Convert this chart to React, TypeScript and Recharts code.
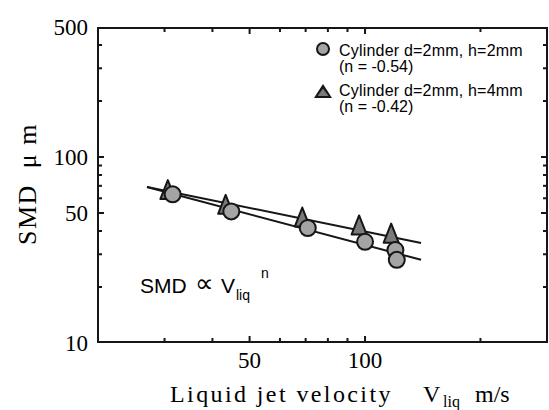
import React from "react";
import { ComposedChart, Scatter, XAxis, YAxis } from "recharts";

// tick values (log axes)
const xTicks = [30, 40, 50, 60, 70, 80, 90, 100, 200];
const xLabelTicks = [50, 100];
const yTicks = [10, 20, 30, 40, 50, 60, 70, 80, 90, 100, 200, 300, 400, 500];
const yLabelTicks = [10, 50, 100, 500];
const xDomain = [20, 300];
const yDomain = [10, 500];

// Cylinder d=2mm, h=2mm
const h2Velocity = [31.5, 44.8, 70.9, 100, 120, 121];
const h2Smd = [63, 51, 41.5, 35, 31.6, 28];

// Cylinder d=2mm, h=4mm
const h4Velocity = [30.6, 43.3, 68.6, 96.5, 117];
const h4Smd = [66, 55, 47, 42.6, 38.5];

// power-law fit end points
const fitVelocity = [27, 140];
const h2FitSmd = [69, 28];
const h4FitSmd = [69, 34.5];

const h2Data = h2Velocity.map((v, i) => ({ v, smd: h2Smd[i] }));
const h4Data = h4Velocity.map((v, i) => ({ v, smd: h4Smd[i] }));
const h2Fit = fitVelocity.map((v, i) => ({ v, smd: h2FitSmd[i] }));
const h4Fit = fitVelocity.map((v, i) => ({ v, smd: h4FitSmd[i] }));

// frame and inward ticks, placed through the chart scales
const frame = [
  { v: xDomain[0], smd: yDomain[0] },
  { v: xDomain[0], smd: yDomain[1] },
  { v: xDomain[1], smd: yDomain[1] },
  { v: xDomain[1], smd: yDomain[0] },
  { v: xDomain[0], smd: yDomain[0] },
];
const bottomMarks = xTicks.map((v) => ({ v, smd: yDomain[0] }));
const topMarks = xTicks.map((v) => ({ v, smd: yDomain[1] }));
const leftMarks = yTicks.map((smd) => ({ v: xDomain[0], smd }));
const rightMarks = yTicks.map((smd) => ({ v: xDomain[1], smd }));

// layout
const W = 549;
const H = 410;
const TOP = 27;
const RIGHT = 1;
const X_AXIS_H = 67;
const Y_AXIS_W = 97;

const SERIF = "Liberation Serif, Times New Roman, serif";
const SANS = "Liberation Sans, Arial, sans-serif";
const INK = "#161616";

const CircleMark = ({ cx, cy, r = 8 }: any) => (
  <circle cx={cx} cy={cy} r={r} fill="#a4a4a4" stroke={INK} strokeWidth={2} />
);

const TriangleMark = ({ cx, cy, w = 15, h = 19 }: any) => (
  <path
    d={`M${cx},${cy - h * 0.55} L${cx + w / 2},${cy + h * 0.45} L${cx - w / 2},${cy + h * 0.45} Z`}
    fill="#7a7a7a"
    stroke={INK}
    strokeWidth={2}
    strokeLinejoin="round"
  />
);

const tickMark = (dx: number, dy: number, isMajor: (p: any) => boolean) => (p: any) => {
  const len = isMajor(p.payload) ? 7 : 5;
  return <path d={`M${p.cx},${p.cy}l${dx * len},${dy * len}`} stroke={INK} strokeWidth={2} />;
};
const xMajor = (d: any) => xLabelTicks.includes(d.v);
const yMajor = (d: any) => yLabelTicks.includes(d.smd);

const LeftLabel = ({ x, y, payload }: any) =>
  yLabelTicks.includes(payload.value) ? (
    <text x={x - 9} y={y} dy="0.35em" textAnchor="end" fontSize={23} fontFamily={SERIF} fill="#000">
      {payload.value}
    </text>
  ) : (
    <g />
  );

const BottomLabel = ({ x, y, payload }: any) =>
  xLabelTicks.includes(payload.value) ? (
    <text x={x} y={y + 9} dy="0.71em" textAnchor="middle" fontSize={23} fontFamily={SERIF} fill="#000">
      {payload.value}
    </text>
  ) : (
    <g />
  );

const noMark = () => <g />;

// html text placed by its baseline
const Txt = ({ x, base, size, serif, spacing = 0, children }: any) => (
  <div
    style={{
      position: "absolute",
      left: x,
      top: base - size * (serif ? 0.84 : 0.85),
      fontSize: size,
      lineHeight: 1,
      fontFamily: serif ? SERIF : SANS,
      letterSpacing: spacing,
      whiteSpace: "pre",
      color: "#000",
    }}
  >
    {children}
  </div>
);

export default function App() {
  return (
    <div style={{ position: "absolute", left: 0, top: 0, width: W, height: H }}>
      <ComposedChart width={W} height={H} margin={{ top: TOP, right: RIGHT, left: 0, bottom: 0 }}>
        <XAxis
          dataKey="v"
          type="number"
          scale="log"
          domain={xDomain}
          allowDataOverflow
          ticks={xTicks}
          interval={0}
          height={X_AXIS_H}
          tickSize={0}
          tickMargin={0}
          tickLine={false}
          axisLine={false}
          tick={<BottomLabel />}
        />
        <YAxis
          dataKey="smd"
          type="number"
          scale="log"
          domain={yDomain}
          allowDataOverflow
          ticks={yTicks}
          interval={0}
          width={Y_AXIS_W}
          tickSize={0}
          tickMargin={0}
          tickLine={false}
          axisLine={false}
          tick={<LeftLabel />}
        />
        <Scatter data={frame} line={{ stroke: INK, strokeWidth: 4 }} shape={noMark} isAnimationActive={false} />
        <Scatter data={bottomMarks} shape={tickMark(0, -1, xMajor)} isAnimationActive={false} />
        <Scatter data={topMarks} shape={tickMark(0, 1, xMajor)} isAnimationActive={false} />
        <Scatter data={leftMarks} shape={tickMark(1, 0, yMajor)} isAnimationActive={false} />
        <Scatter data={rightMarks} shape={tickMark(-1, 0, yMajor)} isAnimationActive={false} />
        <Scatter data={h4Fit} line={{ stroke: INK, strokeWidth: 2 }} shape={noMark} isAnimationActive={false} />
        <Scatter data={h2Fit} line={{ stroke: INK, strokeWidth: 2 }} shape={noMark} isAnimationActive={false} />
        <Scatter data={h4Data} shape={(p: any) => <TriangleMark cx={p.cx} cy={p.cy} />} isAnimationActive={false} />
        <Scatter data={h2Data} shape={(p: any) => <CircleMark cx={p.cx} cy={p.cy} />} isAnimationActive={false} />
      </ComposedChart>

      <div style={{ position: "absolute", left: 0, top: 0, width: W, height: H, pointerEvents: "none" }}>
        {/* legend */}
        <div
          style={{
            position: "absolute",
            left: 316,
            top: 42,
            width: 14,
            height: 14,
            boxSizing: "border-box",
            borderRadius: "50%",
            border: `2px solid ${INK}`,
            background: "#a4a4a4",
          }}
        />
        <div
          style={{
            position: "absolute",
            left: 314,
            top: 84,
            width: 18,
            height: 14,
            background: INK,
            clipPath: "polygon(50% 0, 100% 100%, 0 100%)",
          }}
        >
          <div
            style={{
              position: "absolute",
              left: 3.5,
              top: 4.5,
              width: 11,
              height: 7.5,
              background: "#7a7a7a",
              clipPath: "polygon(50% 0, 100% 100%, 0 100%)",
            }}
          />
        </div>
        <Txt x={339} base={57} size={16} spacing={0.2}>Cylinder d=2mm, h=2mm</Txt>
        <Txt x={339} base={73} size={16}>(n = -0.54)</Txt>
        <Txt x={339} base={97} size={16} spacing={0.2}>Cylinder d=2mm, h=4mm</Txt>
        <Txt x={339} base={113} size={16}>(n = -0.42)</Txt>

        {/* relation */}
        <Txt x={140} base={293} size={21}>SMD</Txt>
        <Txt x={195} base={292} size={26}>∝</Txt>
        <Txt x={221} base={293} size={21}>V</Txt>
        <Txt x={236} base={300} size={14}>liq</Txt>
        <Txt x={261} base={278} size={14}>n</Txt>

        {/* axis titles */}
        <Txt x={170} base={402} size={24} serif spacing={2.4}>Liquid jet velocity</Txt>
        <Txt x={423} base={402} size={24} serif>V</Txt>
        <Txt x={443} base={407} size={16} serif>liq</Txt>
        <Txt x={475} base={402} size={24} serif>m/s</Txt>
        <div
          style={{
            position: "absolute",
            left: 28 - 100,
            top: 184 - 13,
            width: 200,
            height: 26,
            fontSize: 26,
            lineHeight: 1,
            fontFamily: SERIF,
            textAlign: "center",
            letterSpacing: 1.5,
            whiteSpace: "pre",
            transform: "rotate(-90deg)",
          }}
        >
          SMD  μ m
        </div>
      </div>
    </div>
  );
}
